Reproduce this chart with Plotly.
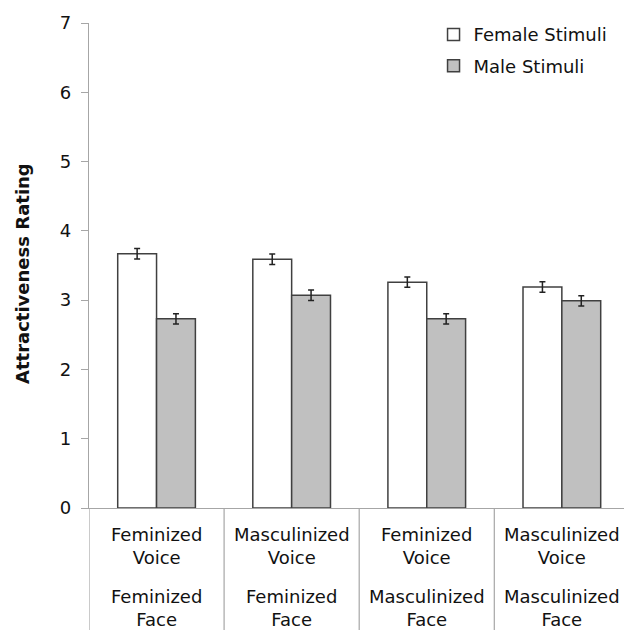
import plotly.graph_objects as go

voice_labels = ["Feminized<br>Voice", "Masculinized<br>Voice", "Feminized<br>Voice", "Masculinized<br>Voice"]
face_labels = ["Feminized<br>Face", "Feminized<br>Face", "Masculinized<br>Face", "Masculinized<br>Face"]
categories = ["FV-FF", "MV-FF", "FV-MF", "MV-MF"]
female_vals = [3.67, 3.59, 3.26, 3.19]
female_err = [0.075, 0.075, 0.075, 0.075]
male_vals = [2.73, 3.07, 2.73, 2.99]
male_err = [0.075, 0.075, 0.075, 0.075]
y_ticks = [0, 1, 2, 3, 4, 5, 6, 7]

FONT = "DejaVu Sans, sans-serif"
idx = list(range(len(categories)))

fig = go.Figure()
fig.add_trace(go.Bar(
    x=idx, y=female_vals, name="Female Stimuli", legendgroup="f",
    marker=dict(color="white", line=dict(color="#404040", width=1.5)),
    error_y=dict(type="data", array=female_err, color="#222", thickness=1.5, width=3),
))
fig.add_trace(go.Bar(
    x=idx, y=male_vals, name="Male Stimuli", legendgroup="m",
    marker=dict(color="#c0c0c0", line=dict(color="#404040", width=1.5)),
    error_y=dict(type="data", array=male_err, color="#222", thickness=1.5, width=3),
))

W, H = 624, 630
L, T, B = 89, 23, 122
plot_h = H - T - B
plot_w = W - L
sep_bottom = -B / plot_h
shapes = []
for i in range(len(categories)):
    shapes.append(dict(type="line", xref="x", yref="paper", x0=i - 0.5, x1=i - 0.5,
                       y0=0, y1=sep_bottom, line=dict(color="#a6a6a6", width=1.2)))

annotations = []
for i in idx:
    annotations.append(dict(x=i, y=-37.5 / plot_h, xref="x", yref="paper", text=voice_labels[i],
                            showarrow=False, yanchor="middle",
                            font=dict(family=FONT, size=18, color="#111")))
    annotations.append(dict(x=i, y=-99.5 / plot_h, xref="x", yref="paper", text=face_labels[i],
                            showarrow=False, yanchor="middle",
                            font=dict(family=FONT, size=18, color="#111")))
annotations.append(dict(x=-(L - 22) / plot_w, y=(508 - 274) / plot_h, xref="paper", yref="paper",
                        text="<b>Attractiveness Rating</b>", textangle=-90, showarrow=False,
                        xanchor="center", yanchor="middle",
                        font=dict(family=FONT, size=18, color="#111")))

fig.update_layout(
    width=W, height=H,
    margin=dict(l=L, r=0, t=T, b=B, pad=0),
    paper_bgcolor="white", plot_bgcolor="white",
    barmode="group", bargap=0.425, bargroupgap=0,
    font=dict(family=FONT, size=18, color="#111"),
    showlegend=True,
    legend=dict(x=0.644, y=1.014, xanchor="left", yanchor="top", bgcolor="rgba(0,0,0,0)",
                font=dict(family=FONT, size=18, color="#111"),
                traceorder="grouped", tracegroupgap=5, itemwidth=30),
    shapes=shapes, annotations=annotations,
    xaxis=dict(range=[-0.5, 3.46], showticklabels=False, ticks="", showgrid=False,
               showline=True, linecolor="#a6a6a6", linewidth=1.2, zeroline=False),
    yaxis=dict(range=[0, 7], tickvals=y_ticks, ticks="outside", ticklen=7, tickcolor="#a6a6a6",
               ticklabelstandoff=6,
               showline=True, linecolor="#a6a6a6", linewidth=1.2, showgrid=False, zeroline=False,
               tickfont=dict(family=FONT, size=18, color="#111")),
)

fig.write_html(
    "out.html",
    config={"displayModeBar": False},
    post_script="document.body.style.margin='0';document.documentElement.style.overflow='hidden';document.body.style.overflow='hidden';",
)
